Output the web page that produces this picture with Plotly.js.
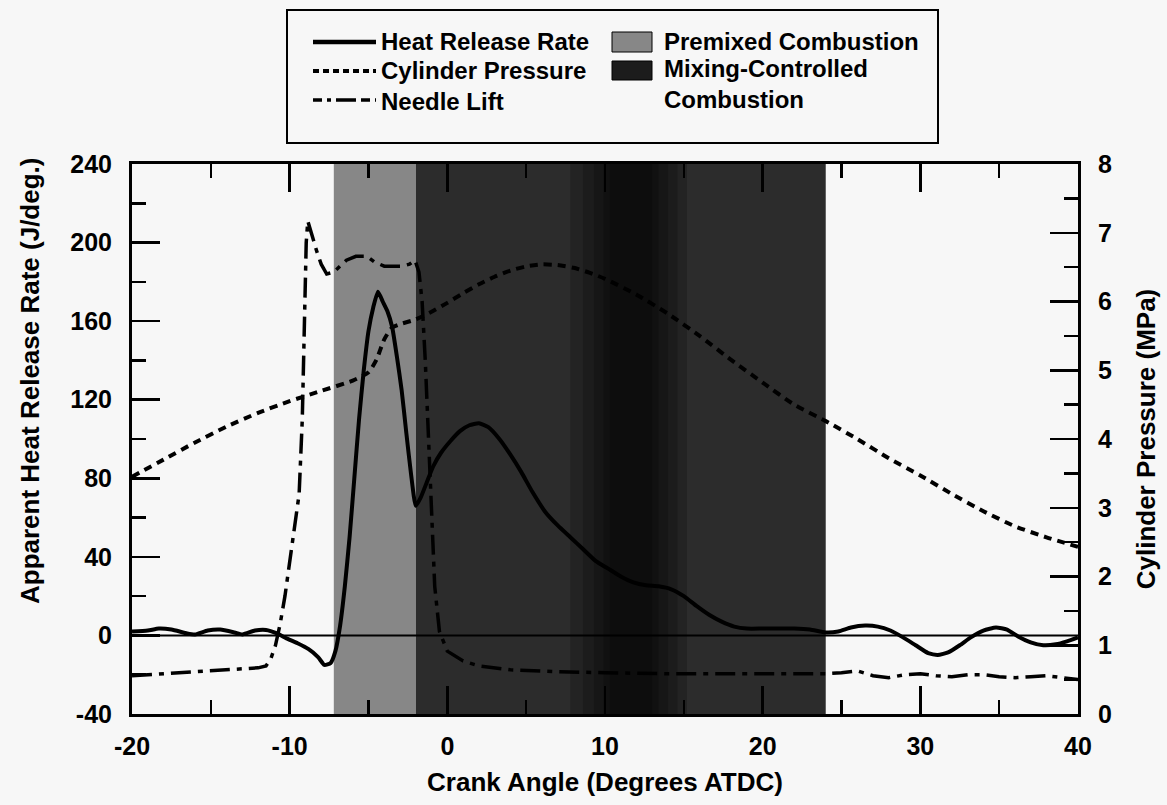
<!DOCTYPE html>
<html>
<head>
<meta charset="utf-8">
<script src="https://cdn.plot.ly/plotly-3.0.1.min.js"></script>
<style>
  html, body { margin: 0; padding: 0; background: #f7f7f7; }
  #chart { width: 1167px; height: 805px; }
</style>
</head>
<body>
<div id="chart"></div>
<script>
// ---------------- data ----------------
const crankAngleHRR = [-20, -19, -18.3, -17.5, -16.5, -16, -15.2, -14.4, -13.5, -13, -12.2, -11.5, -10.8, -10.2, -9.5, -8.8, -8.2, -7.8, -7.4, -7.1, -6.8, -6.5, -6.2, -5.9, -5.6, -5.3, -5.0, -4.7, -4.4, -4.1, -3.8, -3.5, -3.2, -2.9, -2.6, -2.3, -2.0, -1.7, -1.3, -0.9, -0.4, 0.2, 0.8, 1.4, 2.0, 2.6, 3.3, 4.0, 4.7, 5.4, 6.2, 7.0, 7.8, 8.6, 9.4, 10.2, 11.0, 11.8, 12.6, 13.4, 14.2, 15.0, 15.8, 16.6, 17.4, 18.2, 19.0, 20, 21, 22, 23, 24, 24.8, 25.6, 26.5, 27.3, 28.1, 28.9, 29.7, 30.5, 31.1, 31.8, 32.5, 33.2, 34.0, 34.8, 35.5, 36.2, 37.0, 37.8, 38.6, 39.3, 40];
const heatReleaseRate = [2, 2.5, 3.5, 3, 1, 0.5, 2.5, 3, 1.5, 0.5, 2.5, 2.8, 1, -1.5, -4, -7, -11, -15, -14, -8, 5, 25, 50, 80, 110, 135, 155, 167, 175, 170, 165, 157, 142, 125, 103, 82, 66, 70, 78, 86, 93, 99, 104, 107, 108, 106, 100, 92, 83, 73, 63, 56, 50, 44, 38, 34, 30, 27, 25.5, 25, 23.5, 20, 15, 10.5, 7, 4.5, 3.5, 3.5, 3.5, 3.5, 3, 1.5, 2, 4, 5, 4.5, 2.5, -1, -5, -9, -10, -8.5, -5, -1, 2.5, 4, 3, -0.5, -3.5, -5, -4.5, -3, -1];

const crankAnglePressure = [-20, -18, -16, -14, -12, -10, -8, -6, -5, -4.5, -4, -3.5, -3, -2, -1, 0, 1, 2, 3, 4, 5, 6, 7, 8, 9, 10, 12, 14, 16, 18, 20, 22, 24, 26, 28, 30, 32, 34, 36, 38, 40];
const cylinderPressure = [3.45, 3.7, 3.95, 4.18, 4.38, 4.55, 4.7, 4.85, 4.97, 5.15, 5.45, 5.62, 5.67, 5.74, 5.85, 5.98, 6.12, 6.25, 6.36, 6.45, 6.51, 6.54, 6.53, 6.49, 6.42, 6.33, 6.1, 5.82, 5.5, 5.15, 4.82, 4.5, 4.26, 4.0, 3.72, 3.47, 3.2, 2.95, 2.73, 2.57, 2.43];

const crankAngleNeedle = [-20, -18, -16, -14, -12, -11.5, -11.2, -10.9, -10.6, -10.3, -10.0, -9.7, -9.4, -9.2, -9.05, -8.95, -8.85, -8.6, -8.3, -8.0, -7.65, -7.2, -6.8, -6.4, -5.8, -5.1, -4.6, -4.0, -3.4, -2.9, -2.4, -2.05, -1.8, -1.6, -1.4, -1.2, -1.0, -0.8, -0.5, 0, 1, 2, 4, 7, 10, 14, 18, 22, 24, 25, 26, 27, 28, 29, 30, 31, 32, 33, 34, 35, 36, 37, 38, 39, 40];
const needleLift = [-20.5, -19.5, -18.5, -17.5, -16.5, -15.5, -12, -5, 6, 20, 38, 55, 72, 110, 160, 200, 211, 204, 196, 189, 184, 185, 188, 191, 193, 193, 190, 188, 188, 188, 189, 191, 185, 170, 140, 100, 60, 25, 2, -8, -13, -15.5, -17.5, -18.5, -19, -19.5, -19.5, -19.5, -19.5, -19, -18, -20.5, -21.5, -20, -19.5, -20.5, -21, -20, -20, -21, -21.5, -21, -20.5, -21.5, -22.5];

const premixedRange = [-7.2, -2.0];
const mixingRange = [-2.0, 24.0];
const mixingCoreBands = [[7.8, 15.2], [8.6, 14.6], [9.3, 14.0], [9.9, 13.4], [10.3, 13.0]];

const xRange = [-20, 40];
const hrrRange = [-40, 240];
const pressureRange = [0, 8];
const xTickVals = [-20, -10, 0, 10, 20, 30, 40];
const xTickLabels = ['-20', '-10', '0', '10', '20', '30', '40'];
const yTickVals = [-40, 0, 40, 80, 120, 160, 200, 240];
const yTickLabels = ['-40', '0', '40', '80', '120', '160', '200', '240'];
const y2TickVals = [0, 1, 2, 3, 4, 5, 6, 7, 8];
const y2TickLabels = ['0', '1', '2', '3', '4', '5', '6', '7', '8'];

const seriesNames = ['Heat Release Rate', 'Cylinder Pressure', 'Needle Lift'];
const regionNames = ['Premixed Combustion', 'Mixing-Controlled<br>Combustion'];

// ---------------- layout geometry ----------------
const W = 1167, H = 805;
const L = 132, T = 164, PW = 946, PH = 550;
const px = v => (v - L) / PW;
const py = v => (T + PH - v) / PH;

const FONT = 'Liberation Sans, Arial, Helvetica, sans-serif';
const INK = '#000000';
const BG = '#f7f7f7';
const PREMIX_FILL = '#878787';
const MIX_FILL = '#2c2c2c';

const dashPressure = '8px,6px';
const dashNeedle = '20px,7px,5px,7px';

function rectX(r) { return [r[0], r[1], r[1], r[0], r[0]]; }
function rectY(r) { return [r[0], r[0], r[1], r[1], r[0]]; }

const traces = [];
traces.push({
  type: 'scatter', mode: 'lines', x: rectX(premixedRange), y: rectY(hrrRange),
  fill: 'toself', fillcolor: PREMIX_FILL, line: {width: 0, color: PREMIX_FILL},
  name: 'Premixed Combustion', showlegend: false, hoverinfo: 'skip'
});
traces.push({
  type: 'scatter', mode: 'lines', x: rectX(mixingRange), y: rectY(hrrRange),
  fill: 'toself', fillcolor: MIX_FILL, line: {width: 0, color: MIX_FILL},
  name: 'Mixing-Controlled Combustion', showlegend: false, hoverinfo: 'skip'
});
mixingCoreBands.forEach((b) => {
  traces.push({
    type: 'scatter', mode: 'lines', x: rectX(b), y: rectY(hrrRange),
    fill: 'toself', fillcolor: 'rgba(0,0,0,0.2)', line: {width: 0},
    showlegend: false, hoverinfo: 'skip'
  });
});
traces.push({
  type: 'scatter', mode: 'lines', x: crankAngleNeedle, y: needleLift,
  name: seriesNames[2], line: {color: INK, width: 3.5, dash: dashNeedle}, showlegend: false
});
traces.push({
  type: 'scatter', mode: 'lines', x: crankAnglePressure, y: cylinderPressure, yaxis: 'y2',
  name: seriesNames[1], line: {color: INK, width: 4, dash: dashPressure, shape: 'spline', smoothing: 0.6}, showlegend: false
});
traces.push({
  type: 'scatter', mode: 'lines', x: crankAngleHRR, y: heatReleaseRate,
  name: seriesNames[0], line: {color: INK, width: 4, shape: 'spline', smoothing: 0.5}, showlegend: false
});

const tickFont = {family: FONT, size: 25, color: INK, weight: 'bold'};
const titleFont = {family: FONT, size: 26, color: INK, weight: 'bold'};
const legFont = {family: FONT, size: 24, color: INK, weight: 'bold'};

const axisCommon = {
  showgrid: false, zeroline: false, showline: true, linecolor: INK, linewidth: 3,
  ticks: 'inside', tickcolor: INK, tickwidth: 2.5, ticklen: 28, tickfont: tickFont,
  tickmode: 'array'
};

const shapes = [
  // zero reference line
  {type: 'line', xref: 'paper', x0: 0, x1: 1, yref: 'y', y0: 0, y1: 0, line: {color: INK, width: 2}, layer: 'above'},
  // legend box
  {type: 'rect', xref: 'paper', yref: 'paper', x0: px(287), x1: px(938), y0: py(143), y1: py(10),
   line: {color: INK, width: 2}, fillcolor: 'rgba(0,0,0,0)'},
  // legend line samples
  {type: 'line', xref: 'paper', yref: 'paper', x0: px(313), x1: px(376), y0: py(42), y1: py(42), line: {color: INK, width: 4.5}},
  {type: 'line', xref: 'paper', yref: 'paper', x0: px(313), x1: px(376), y0: py(71), y1: py(71), line: {color: INK, width: 4, dash: '6px,4px'}},
  {type: 'line', xref: 'paper', yref: 'paper', x0: px(313), x1: px(376), y0: py(100), y1: py(100), line: {color: INK, width: 3.5, dash: '9px,5px,4px,5px,20px,5px'}},
  // legend swatches
  {type: 'rect', xref: 'paper', yref: 'paper', x0: px(612), x1: px(652), y0: py(52), y1: py(32), line: {color: INK, width: 1}, fillcolor: PREMIX_FILL},
  {type: 'rect', xref: 'paper', yref: 'paper', x0: px(612), x1: px(652), y0: py(80), y1: py(61), line: {color: INK, width: 1}, fillcolor: '#1c1c1c'}
];

function legText(text, x, y, anchor) {
  return {text: text, xref: 'paper', yref: 'paper', x: px(x), y: py(y), xanchor: 'left', yanchor: anchor || 'middle',
          align: 'left', showarrow: false, font: legFont};
}
const annotations = [
  legText(seriesNames[0], 379, 42),
  legText(seriesNames[1], 379, 71),
  legText(seriesNames[2], 379, 101),
  legText(regionNames[0], 662, 42),
  legText(regionNames[1], 662, 84),
  {text: 'Apparent Heat Release Rate (J/deg.)', xref: 'paper', yref: 'paper', x: px(30), y: py(381),
   xanchor: 'center', yanchor: 'middle', textangle: -90, showarrow: false, font: titleFont}
];

const layout = {
  width: W, height: H,
  paper_bgcolor: BG, plot_bgcolor: BG,
  margin: {l: L, r: W - L - PW, t: T, b: H - T - PH, pad: 0},
  showlegend: false,
  xaxis: Object.assign({}, axisCommon, {
    range: xRange, tickvals: xTickVals, ticktext: xTickLabels, mirror: 'ticks',
    minor: {dtick: 5, ticks: 'inside', ticklen: 14, tickwidth: 2.5, tickcolor: INK},
    ticklabelstandoff: 8,
    title: {text: 'Crank Angle (Degrees ATDC)', font: titleFont, standoff: 14}
  }),
  yaxis: Object.assign({}, axisCommon, {
    range: hrrRange, tickvals: yTickVals, ticktext: yTickLabels,
    minor: {dtick: 20, ticks: 'inside', ticklen: 14, tickwidth: 2.5, tickcolor: INK},
    ticklabelstandoff: 12
  }),
  yaxis2: Object.assign({}, axisCommon, {
    range: pressureRange, tickvals: y2TickVals, ticktext: y2TickLabels,
    overlaying: 'y', side: 'right', anchor: 'x',
    minor: {dtick: 0.5, ticks: 'inside', ticklen: 14, tickwidth: 2.5, tickcolor: INK},
    ticklabelstandoff: 12,
    title: {text: 'Cylinder Pressure (MPa)', font: titleFont, standoff: 26}
  }),
  shapes: shapes,
  annotations: annotations
};

Plotly.newPlot('chart', traces, layout, {displayModeBar: false, staticPlot: true});
</script>
</body>
</html>
